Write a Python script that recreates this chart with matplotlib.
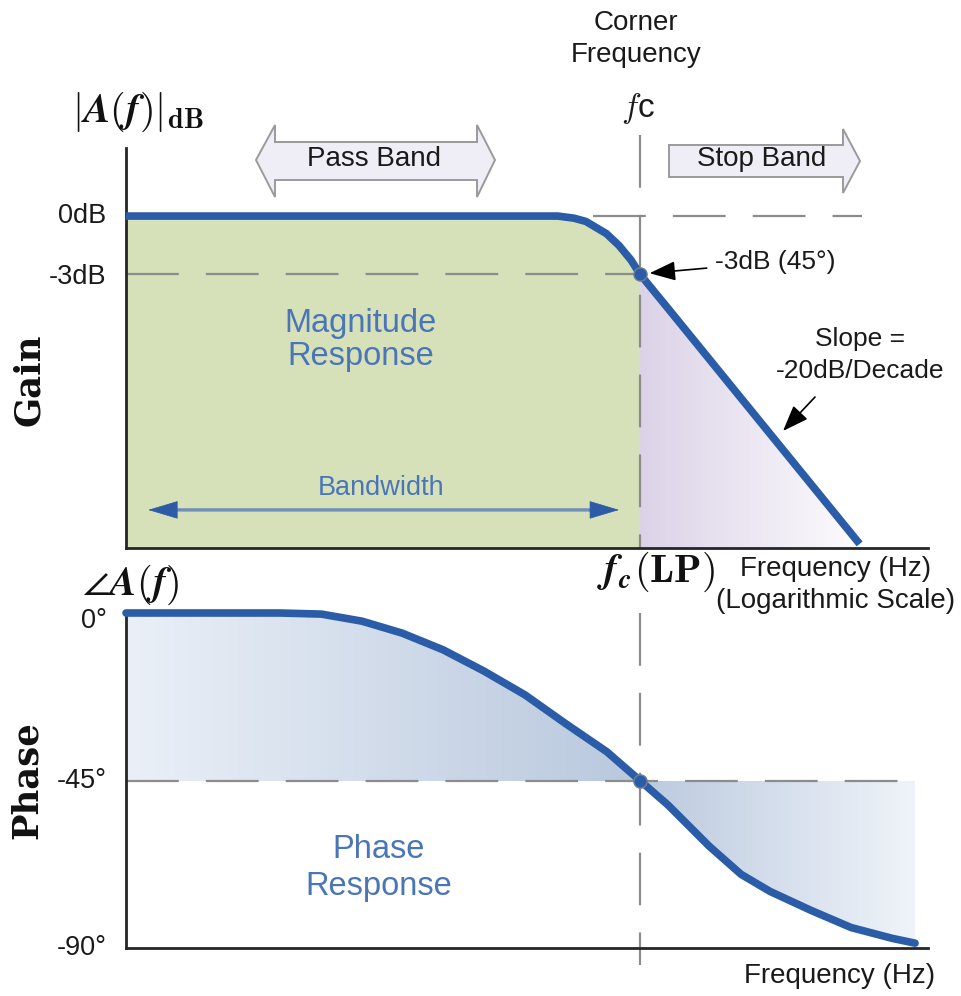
import matplotlib
matplotlib.use("Agg")
import numpy as np
import matplotlib.pyplot as plt
from matplotlib.patches import Polygon
from matplotlib.colors import LinearSegmentedColormap

plt.rcParams['font.family'] = ['Liberation Sans', 'DejaVu Sans']
plt.rcParams['mathtext.fontset'] = 'cm'
plt.rcParams['lines.scale_dashes'] = False

# ---------------- data ----------------
f_c = 1000.0                      # corner frequency (Hz)
freq_range = (22.0, 8500.0)       # plotted frequency span (Hz)
gain_range = (-17.17, 3.52)       # dB
phase_range = (-90.0, 0.0)        # degrees

gain_freq = [22, 543, 613, 670, 780, 856, 936, 1000, 1233, 5116]
gain_db = [0.0, 0.0, -0.11, -0.28, -0.91, -1.52, -2.27, -3.0, -4.78, -16.96]

phase_freq = [22, 69, 94, 127, 171, 232, 314, 426, 578, 783, 1000,
              1233, 1671, 2120, 2629, 3566, 4800, 6509, 7720]
phase_deg = [0.0, 0.0, -0.3, -2.2, -5.4, -9.9, -15.6, -22.0, -29.8, -37.3, -45.0,
             -51.6, -62.6, -70.2, -74.8, -79.9, -84.5, -87.4, -88.7]

gain_ticks = [0, -3]
gain_tick_labels = ['0dB', '-3dB']
phase_ticks = [0, -45, -90]
phase_tick_labels = ['0°', '-45°', '-90°']
bandwidth_level = -15.2           # dB height of the bandwidth arrow

# ---------------- style ----------------
W, H = 962, 996
CURVE = '#2b5ca8'
TEXT_BLUE = '#4a76b8'
GREEN = '#d6e0b9'
AXIS = '#262626'
DASH = dict(color='#8c8c8c', lw=1.6, dashes=(38, 19.5), dash_capstyle='butt')
FS = 20

fig = plt.figure(figsize=(W / 100, H / 100), dpi=100)


def fx(px):
    return px / W


def fy(py):
    return 1 - py / H


def make_axes(top, bottom):
    ax = fig.add_axes([fx(126), fy(bottom), fx(928) - fx(126), (bottom - top) / H])
    ax.set_xscale('log')
    for s in ('top', 'right'):
        ax.spines[s].set_visible(False)
    for s in ('left', 'bottom'):
        ax.spines[s].set_color(AXIS)
        ax.spines[s].set_linewidth(2.0)
    ax.set_xticks([])
    ax.set_xticks([], minor=True)
    ax.set_yticks([])
    ax.patch.set_alpha(0)
    return ax


def gradient_fill(ax, x, y, base, c_left, c_right, zorder):
    """Fill between curve and base with a left-to-right colour ramp."""
    poly = ax.fill_between(x, y, base, facecolor='none', edgecolor='none')
    cmap = LinearSegmentedColormap.from_list('ramp', [c_left, c_right])
    lo, hi = min(min(y), base), max(max(y), base)
    xe = np.geomspace(x[0], x[-1], 161)
    mesh = ax.pcolormesh(xe, [lo, hi], np.linspace(0, 1, 160)[None, :],
                         cmap=cmap, shading='flat', antialiased=False,
                         edgecolors='none', zorder=zorder)
    mesh.set_clip_path(poly.get_paths()[0], transform=ax.transData)


def tick_labels(ax, ticks, labels, offsets):
    for t, lab, dy in zip(ticks, labels, offsets):
        ax.annotate(lab, xy=(0, t), xycoords=('axes fraction', 'data'),
                    xytext=(-14, dy), textcoords='offset points',
                    ha='right', va='center', fontsize=FS - 0.5, color='#1a1a1a')


def fig_poly(pts, **kw):
    p = Polygon([(fx(x), fy(y)) for x, y in pts], closed=True,
                transform=fig.transFigure, **kw)
    fig.add_artist(p)


def ftext(x, y, s, **kw):
    kw.setdefault('ha', 'center')
    kw.setdefault('va', 'center')
    kw.setdefault('fontsize', FS)
    fig.text(fx(x), fy(y), s, **kw)


# ================= magnitude panel =================
ax1 = make_axes(148, 548)
n_fc = gain_freq.index(f_c)
ax1.fill_between(gain_freq[:n_fc + 1], gain_db[:n_fc + 1], gain_range[0],
                 color=GREEN, lw=0, zorder=1)
gradient_fill(ax1, gain_freq[n_fc:], gain_db[n_fc:], gain_range[0],
              '#dbd2e7', '#fcfbfd', zorder=1)

ax1.plot([freq_range[0], f_c], [-3, -3], zorder=2, **DASH)
ax1.plot([706, 5207], [0, 0], zorder=2, clip_on=False, **DASH)
ax1.plot([f_c, f_c], [4.19, gain_range[0]], zorder=2, clip_on=False, **DASH)

ax1.plot(gain_freq, gain_db, color=CURVE, lw=5.5, solid_capstyle='butt',
         solid_joinstyle='round', zorder=4, clip_on=False)
ax1.plot([f_c], [-3], 'o', ms=9.5, mfc=CURVE, mec='#6f8197', mew=1.0, zorder=5)

# bandwidth arrow: light shaft with darker heads
ax1.annotate('', xy=(f_c, bandwidth_level), xytext=(freq_range[0], bandwidth_level),
             arrowprops=dict(arrowstyle='-', color='#6d8fb9', lw=2.4,
                             shrinkA=25, shrinkB=30), zorder=3)
for anchor, off, shr in ((f_c, -36, 15), (freq_range[0], 36, 16)):
    ax1.annotate('', xy=(anchor, bandwidth_level), xytext=(off, 0),
                 textcoords='offset points',
                 arrowprops=dict(arrowstyle='-|>,head_length=1.0,head_width=0.3',
                                 color='#2d5ca7', lw=0.5, mutation_scale=20,
                                 shrinkA=0, shrinkB=shr), zorder=3)

# -3 dB callout
ax1.annotate('-3dB (45°)', xy=(f_c, -3), xycoords='data',
             xytext=(715, H - 262), textcoords='figure pixels',
             ha='left', va='center', fontsize=FS - 1, color='#1a1a1a',
             arrowprops=dict(arrowstyle='-|>,head_length=0.8,head_width=0.3',
                             color='black', lw=1.2, mutation_scale=20,
                             shrinkA=4, shrinkB=7))
# slope callout
ax1.annotate('', xy=(783, H - 431), xycoords='figure pixels',
             xytext=(815, H - 397), textcoords='figure pixels',
             arrowprops=dict(arrowstyle='-|>,head_length=0.8,head_width=0.3',
                             color='black', lw=1.2, mutation_scale=20,
                             shrinkA=0, shrinkB=0))

ax1.set_xlim(*freq_range)
ax1.set_ylim(*gain_range)
tick_labels(ax1, gain_ticks, gain_tick_labels, (0, -2))

# ================= phase panel =================
ax2 = make_axes(613, 948)
n_fc2 = phase_freq.index(f_c)
gradient_fill(ax2, phase_freq[:n_fc2 + 1], phase_deg[:n_fc2 + 1], -45,
              '#eaeff7', '#b8c8dd', zorder=1)
gradient_fill(ax2, phase_freq[n_fc2:], phase_deg[n_fc2:], -45,
              '#bac9de', '#eff3f9', zorder=1)

ax2.plot([freq_range[0], phase_freq[-1]], [-45, -45], zorder=2, **DASH)
ax2.plot([f_c, f_c], [0, -94.6], zorder=2, clip_on=False, **DASH)

ax2.plot(phase_freq, phase_deg, color=CURVE, lw=5.5, solid_capstyle='round',
         solid_joinstyle='round', zorder=4, clip_on=False)
ax2.plot([f_c], [-45], 'o', ms=9.5, mfc=CURVE, mec='#6f8197', mew=1.0, zorder=5)

ax2.set_xlim(*freq_range)
ax2.set_ylim(*phase_range)
tick_labels(ax2, phase_ticks, phase_tick_labels, (-6, 0, 0))

# ================= band arrows =================
fig_poly([(256, 160), (275, 125), (275, 142), (477, 142), (477, 125), (495, 160),
          (477, 197), (477, 180), (275, 180), (275, 197)],
         facecolor='#efedf5', edgecolor='#9a9a9a', lw=1.4)
fig_poly([(669, 145), (843, 145), (843, 129), (860, 161), (843, 193), (843, 177),
          (669, 177)],
         facecolor='#efedf5', edgecolor='#9a9a9a', lw=1.4)
ftext(374, 159, 'Pass Band', color='#1a1a1a')
ftext(762, 159, 'Stop Band', color='#1a1a1a')

# ================= labels =================
ftext(636, 39, 'Corner\nFrequency', linespacing=1.35, color='#1a1a1a')
ftext(638, 108, r'$f$c', fontsize=FS + 4, color='#1a1a1a')
ftext(138, 112, r'$|\boldsymbol{A}\mathbf{(}\boldsymbol{f}\mathbf{)}|_{\mathbf{dB}}$',
      fontsize=29, color='#111111')
ftext(29, 380, 'Gain', rotation=90, fontsize=25.5, fontweight='bold',
      family='DejaVu Serif', color='#111111')
ftext(27, 780, 'Phase', rotation=90, fontsize=25.5, fontweight='bold',
      family='DejaVu Serif', color='#111111')
ftext(361, 340, 'Magnitude\nResponse', fontsize=23.5, color=TEXT_BLUE, linespacing=1.12)
ftext(381, 488, 'Bandwidth', fontsize=19.5, color=TEXT_BLUE)
ftext(860, 355, 'Slope =\n-20dB/Decade', fontsize=FS - 1, color='#1a1a1a', linespacing=1.45)
ftext(656, 572, r'$\boldsymbol{f}_{\boldsymbol{c}}\mathbf{(LP)}$', fontsize=29, color='#111111')
ftext(836, 585, 'Frequency (Hz)\n(Logarithmic Scale)', fontsize=FS, color='#1a1a1a',
      linespacing=1.28)
ftext(131, 585, r'$\angle\boldsymbol{A}\mathbf{(}\boldsymbol{f}\mathbf{)}$',
      fontsize=29, color='#111111')
ftext(379, 868, 'Phase\nResponse', fontsize=23.5, color=TEXT_BLUE, linespacing=1.22)
ftext(840, 976, 'Frequency (Hz)', fontsize=FS, color='#1a1a1a')

fig.savefig('out.png', dpi=100, facecolor='white')
